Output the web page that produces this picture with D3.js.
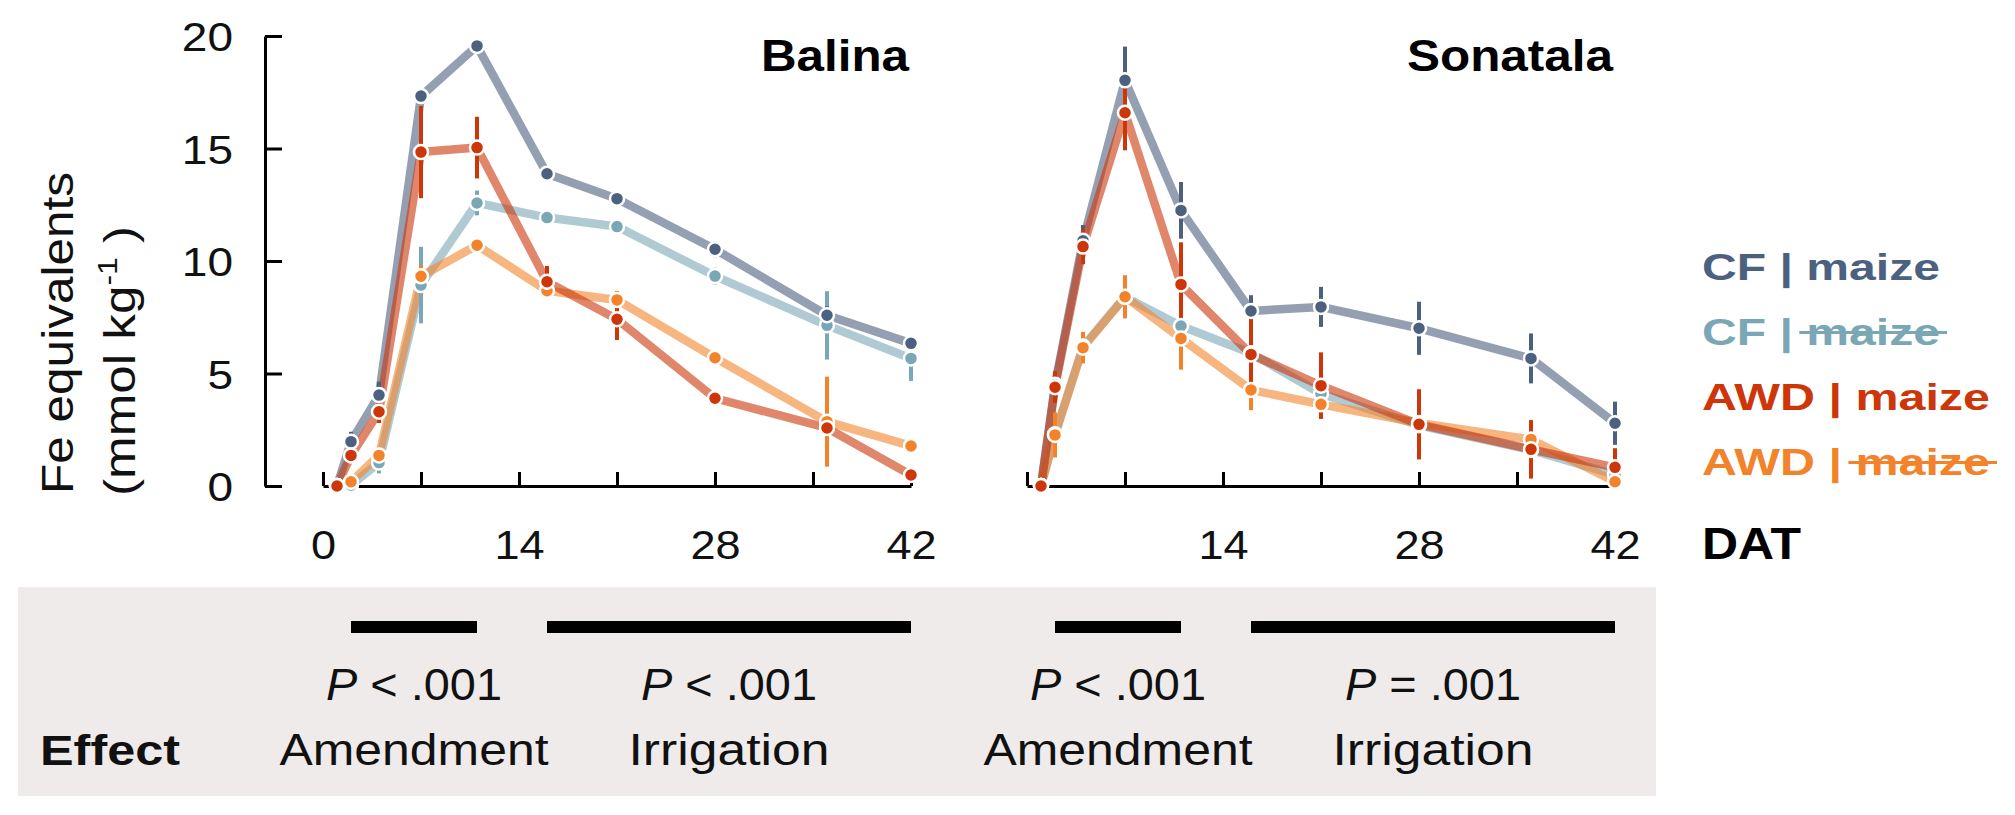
<!DOCTYPE html>
<html><head><meta charset="utf-8">
<script src="https://cdn.jsdelivr.net/npm/d3@7"></script>
<style>
html,body{margin:0;padding:0;background:#fff;}
svg text{font-family:"Liberation Sans", Arial, Helvetica, sans-serif;}
</style></head><body>
<svg id="chart" width="2015" height="815"></svg>
<script>
// ---------------- data ----------------
const days = [1, 2, 4, 7, 11, 16, 21, 28, 36, 42];
const sites = ["Balina", "Sonatala"];
const seriesIrrigation = ["CF", "CF", "AWD", "AWD"];
const seriesMaize = [true, false, true, false];
const seriesColors = ["#4c617f", "#7aa7b5", "#cc3608", "#f2832b"];
const drawOrder = [1, 0, 3, 2];

const balinaCFMaize      = [0, 1.97, 4.04, 17.33, 19.56, 13.88, 12.77, 10.52, 7.59, 6.34];
const balinaCFNoMaize    = [0, 0.04, 1.04, 8.93, 12.58, 11.93, 11.53, 9.33, 7.14, 5.67];
const balinaAWDMaize     = [0, 1.36, 3.30, 14.84, 15.04, 9.08, 7.41, 3.90, 2.58, 0.49];
const balinaAWDNoMaize   = [0, 0.19, 1.36, 9.32, 10.70, 8.68, 8.27, 5.70, 2.86, 1.78];
const balinaCFMaizeSE    = [0, 0.44, 0.6, 0.3, 0.3, 0.3, 0.25, 0.35, 0.4, 0.2];
const balinaCFNoMaizeSE  = [0, 0.1, 0.48, 1.7, 0.55, 0.2, 0.2, 0.37, 1.52, 1.0];
const balinaAWDMaizeSE   = [0, 0.3, 0.5, 2.05, 1.37, 0.7, 0.92, 0.3, 0.3, 0.1];
const balinaAWDNoMaizeSE = [0, 0.2, 0.3, 0.5, 0.25, 0.3, 0.4, 0.2, 2.0, 0.35];

const sonatalaCFMaize      = [0, 4.5, 10.9, 18.03, 12.25, 7.78, 7.96, 7.01, 5.67, 2.79];
const sonatalaCFNoMaize    = [0, 2.3, 6.2, 8.4, 7.11, 5.9, 4.1, 2.7, 1.6, 0.5];
const sonatalaAWDMaize     = [0, 4.39, 10.64, 16.59, 8.96, 5.85, 4.46, 2.74, 1.63, 0.83];
const sonatalaAWDNoMaize   = [0, 2.27, 6.15, 8.41, 6.56, 4.27, 3.63, 2.8, 2.07, 0.19];
const sonatalaCFMaizeSE    = [0, 0.6, 0.7, 1.5, 1.26, 0.7, 0.89, 1.18, 1.11, 0.96];
const sonatalaCFNoMaizeSE  = [0, 0.3, 0.4, 0.5, 0.4, 0.4, 0.4, 0.3, 0.3, 0.3];
const sonatalaAWDMaizeSE   = [0, 0.7, 0.78, 1.67, 1.87, 1.74, 1.48, 1.56, 1.3, 0.85];
const sonatalaAWDNoMaizeSE = [0, 1.0, 0.7, 0.96, 1.39, 0.9, 0.4, 0.3, 0.35, 0.3];

const yTicks = [0, 5, 10, 15, 20];
const xTicks = [0, 7, 14, 21, 28, 35, 42];
const xTickLabelsBalina = [0, 14, 28, 42];
const xTickLabelsSonatala = [14, 28, 42];

const effectSite = [0, 0, 1, 1];
const effectStart = [2, 16, 2, 16];
const effectEnd = [11, 42, 11, 42];
const effectNames = ["Amendment", "Irrigation", "Amendment", "Irrigation"];
const effectRel = ["<", "<", "<", "="];
const effectP = [".001", ".001", ".001", ".001"];

const siteMeans = [
  [balinaCFMaize, balinaCFNoMaize, balinaAWDMaize, balinaAWDNoMaize],
  [sonatalaCFMaize, sonatalaCFNoMaize, sonatalaAWDMaize, sonatalaAWDNoMaize]
];
const siteErrs = [
  [balinaCFMaizeSE, balinaCFNoMaizeSE, balinaAWDMaizeSE, balinaAWDNoMaizeSE],
  [sonatalaCFMaizeSE, sonatalaCFNoMaizeSE, sonatalaAWDMaizeSE, sonatalaAWDNoMaizeSE]
];

// ---------------- layout ----------------
const svg = d3.select("#chart");
const y = d3.scaleLinear().domain([0, 20]).range([486, 36]);
const panelX0 = [323, 1027];
const panelW = 588;
const xScales = panelX0.map(x0 => d3.scaleLinear().domain([0, 42]).range([x0, x0 + panelW]));

function fitText(sel, len) {
  sel.attr("textLength", len).attr("lengthAdjust", "spacingAndGlyphs");
}
function stretch(sel, k) {
  sel.each(function () {
    const L = this.getComputedTextLength();
    if (L > 0) d3.select(this).attr("textLength", L * k).attr("lengthAdjust", "spacingAndGlyphs");
  });
}

// bottom effects panel
svg.append("rect").attr("x", 18).attr("y", 587).attr("width", 1638).attr("height", 209).attr("fill", "#eeebea");

effectSite.forEach((si, i) => {
  const x = xScales[si];
  svg.append("rect")
    .attr("x", x(effectStart[i])).attr("y", 621)
    .attr("width", x(effectEnd[i]) - x(effectStart[i])).attr("height", 12)
    .attr("fill", "#000");
  const cx = (x(effectStart[i]) + x(effectEnd[i])) / 2;
  const pt = svg.append("text").attr("x", cx).attr("y", 700).attr("text-anchor", "middle")
    .attr("font-size", 44).attr("fill", "#111");
  pt.append("tspan").attr("font-style", "italic").text("P");
  pt.append("tspan").text(" " + effectRel[i] + " " + effectP[i]);
  fitText(pt, 176);
  const lt = svg.append("text").attr("x", cx).attr("y", 765).attr("text-anchor", "middle")
    .attr("font-size", 44).attr("fill", "#111").text(effectNames[i]);
  fitText(lt, effectNames[i] === "Amendment" ? 269 : 201);
});
fitText(svg.append("text").attr("x", 40).attr("y", 765).attr("font-size", 42)
  .attr("font-weight", "bold").attr("fill", "#111").text("Effect"), 140);

// panels
sites.forEach((site, si) => {
  const x = xScales[si];
  const g = svg.append("g");
  const means = siteMeans[si], errs = siteErrs[si];
  const labelsShown = si === 0 ? xTickLabelsBalina : xTickLabelsSonatala;

  const gx = g.append("g").attr("transform", `translate(0,${y(0)})`)
    .call(d3.axisBottom(x).tickValues(xTicks).tickSize(-14).tickSizeOuter(0).tickPadding(44)
      .tickFormat(d => labelsShown.includes(d) ? String(d) : ""));
  gx.select(".domain").attr("stroke", "#000").attr("stroke-width", 3.2);
  gx.selectAll(".tick line").attr("stroke", "#000").attr("stroke-width", 3);
  gx.selectAll(".tick text").attr("font-size", 41).attr("fill", "#111")
    .attr("font-family", "'Liberation Sans', Arial, sans-serif");
  stretch(gx.selectAll(".tick text"), 1.1);

  if (si === 0) {
    const gy = g.append("g").attr("transform", "translate(265,0)")
      .call(d3.axisLeft(y).tickValues(yTicks).tickSize(-17).tickSizeOuter(0).tickPadding(32));
    gy.select(".domain").attr("stroke", "#000").attr("stroke-width", 3);
    gy.selectAll(".tick line").attr("stroke", "#000").attr("stroke-width", 3);
    gy.selectAll(".tick text").attr("font-size", 40).attr("fill", "#111").attr("dy", "0.37em")
      .attr("font-family", "'Liberation Sans', Arial, sans-serif");
    stretch(gy.selectAll(".tick text"), 1.15);
  }

  fitText(g.append("text").attr("x", x(42) - 2).attr("y", 71).attr("text-anchor", "end")
    .attr("font-size", 45).attr("font-weight", "bold").attr("fill", "#000").text(site),
    si === 0 ? 148 : 206);

  const line = d3.line().x((d, i) => x(days[i])).y(d => y(d));

  const gl = g.append("g");
  drawOrder.forEach(s => {
    gl.append("path").datum(means[s]).attr("d", line)
      .attr("fill", "none").attr("stroke", seriesColors[s]).attr("stroke-opacity", 0.6)
      .attr("stroke-width", 8.5).attr("stroke-linejoin", "round");
  });
  const ge = g.append("g");
  drawOrder.forEach(s => {
    ge.selectAll(null).data(means[s].map((m, i) => ({ m, e: errs[s][i], d: days[i] })))
      .enter().filter(d => d.e > 0).append("line")
      .attr("x1", d => x(d.d)).attr("x2", d => x(d.d))
      .attr("y1", d => y(d.m + d.e)).attr("y2", d => y(Math.max(0, d.m - d.e)))
      .attr("stroke", seriesColors[s]).attr("stroke-width", 4);
  });
  const gp = g.append("g");
  drawOrder.forEach(s => {
    gp.selectAll(null).data(means[s].map((m, i) => ({ m, d: days[i] })))
      .enter().append("circle")
      .attr("cx", d => x(d.d)).attr("cy", d => y(d.m)).attr("r", 7)
      .attr("fill", seriesColors[s]).attr("stroke", "#fff").attr("stroke-width", 2.5);
  });
});

// y label
const yl1 = svg.append("text").attr("transform", "translate(73,494) rotate(-90)")
  .attr("font-size", 45).attr("fill", "#111").text("Fe equivalents");
fitText(yl1, 322);
const yl2 = svg.append("text").attr("transform", "translate(135,496) rotate(-90)")
  .attr("font-size", 45).attr("fill", "#111");
yl2.append("tspan").text("(mmol kg");
yl2.append("tspan").attr("font-size", 28).attr("dy", -18).text("-1");
yl2.append("tspan").attr("dy", 18).text(" )");
fitText(yl2, 270);

// legend
const legendY = [280, 345, 410, 475];
seriesIrrigation.forEach((irr, s) => {
  const t = svg.append("text").attr("x", 1702).attr("y", legendY[s])
    .attr("font-size", 36).attr("font-weight", "bold").attr("fill", seriesColors[s])
    .text(irr + " | maize");
  fitText(t, irr === "CF" ? 238 : 288);
  if (!seriesMaize[s]) {
    const node = t.node();
    const n = node.getNumberOfChars();
    const first = node.getExtentOfChar(n - 5);
    const last = node.getExtentOfChar(n - 1);
    svg.append("line")
      .attr("x1", first.x - 7).attr("x2", last.x + last.width + 7)
      .attr("y1", legendY[s] - 12.5).attr("y2", legendY[s] - 12.5)
      .attr("stroke", seriesColors[s]).attr("stroke-width", 3.2);
  }
});
fitText(svg.append("text").attr("x", 1702).attr("y", 559).attr("font-size", 44)
  .attr("font-weight", "bold").attr("fill", "#000").text("DAT"), 99);
</script>
</body></html>
